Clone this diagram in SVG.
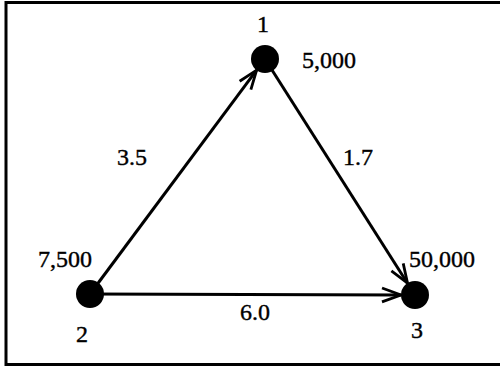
<svg xmlns="http://www.w3.org/2000/svg" width="500" height="366" viewBox="0 0 500 366">
<style>
.edge{stroke:#000;stroke-width:3;fill:none}
.node{fill:#000}
</style>
<defs>
<marker id="arr" markerUnits="userSpaceOnUse" markerWidth="26" markerHeight="22" viewBox="-22 -11 26 22" refX="0" refY="0" orient="auto">
<path d="M-19,-7 L0,0 L-19,7" fill="none" stroke="#000" stroke-width="2.8"/>
</marker>
</defs>
<rect width="500" height="366" fill="#fff"/>
<g id="frame" stroke="#000" stroke-width="3" fill="none">
<polyline points="500,2.5 6,2.5 6,364.5 500,364.5"/>
</g>
<g id="connectors">
<line class="edge" x1="90" y1="294" x2="256.6" y2="70.2" marker-end="url(#arr)"/>
<line class="edge" x1="265" y1="59" x2="407.5" y2="283.2" marker-end="url(#arr)"/>
<line class="edge" x1="90" y1="294" x2="401" y2="295" marker-end="url(#arr)"/>
</g>
<g font-family="Liberation Serif, Times New Roman, serif" font-size="24" fill="#000" stroke="#000" stroke-width="0.4">
<g id="edge-labels">
<text x="117" y="165">3.5</text>
<text x="343" y="165">1.7</text>
<text x="240" y="320">6.0</text>
</g>
<g id="node1">
<circle class="node" cx="265" cy="59" r="14" stroke="none"/>
<text x="263" y="32" text-anchor="middle">1</text>
<text x="302" y="68">5,000</text>
</g>
<g id="node2">
<circle class="node" cx="90" cy="294" r="14" stroke="none"/>
<text x="82" y="342" text-anchor="middle">2</text>
<text x="38" y="267">7,500</text>
</g>
<g id="node3">
<circle class="node" cx="415" cy="295" r="14" stroke="none"/>
<text x="417" y="338" text-anchor="middle">3</text>
<text x="409" y="267">50,000</text>
</g>
</g>
</svg>
